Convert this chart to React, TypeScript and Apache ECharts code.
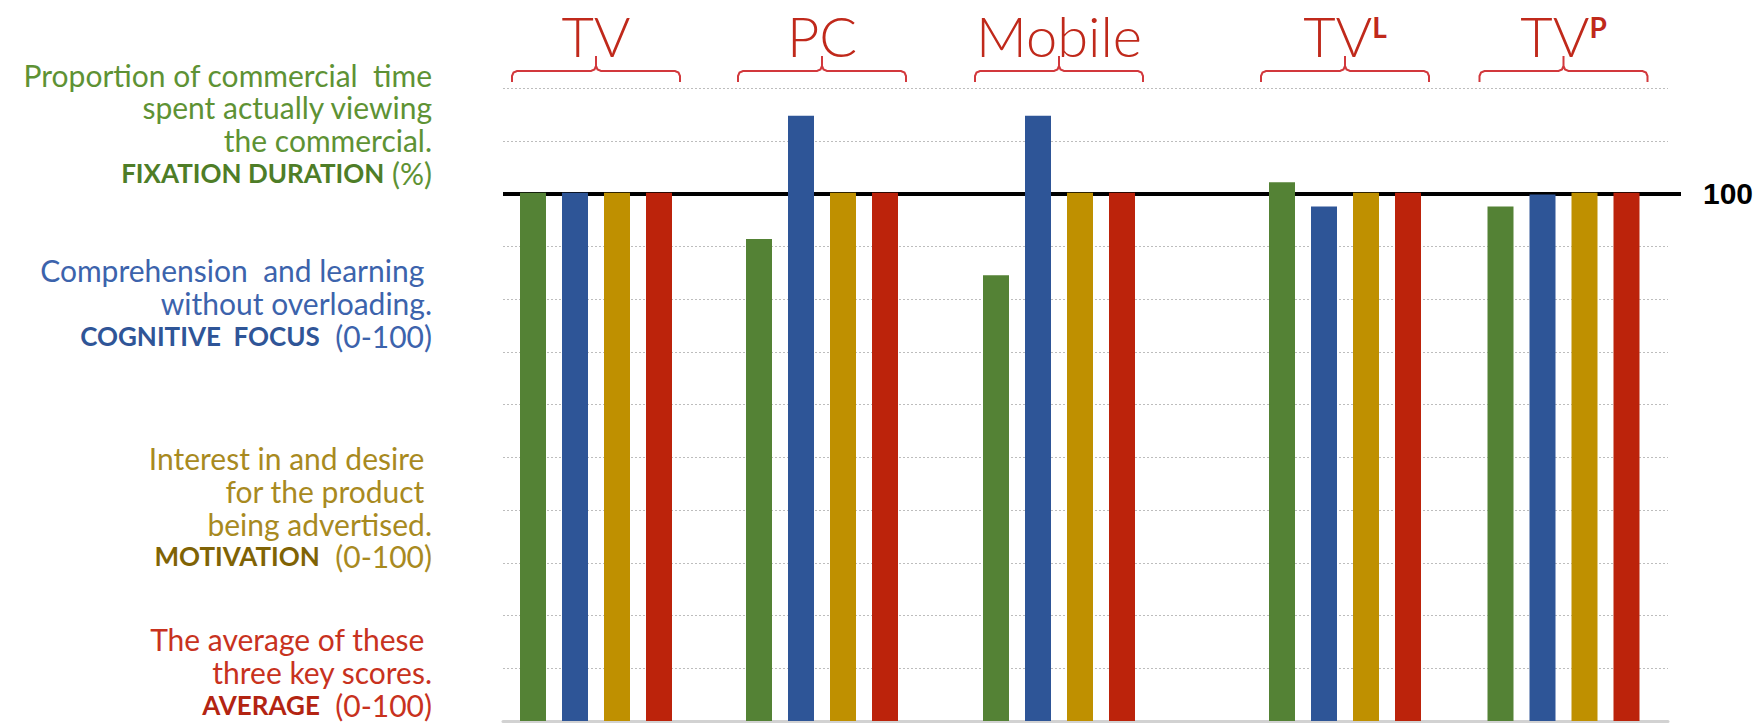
import React, { useEffect, useRef } from 'react';
import * as echarts from 'echarts';

// ---------- data ----------
const groupNames = ['TV', 'PC', 'Mobile', 'TV{s|L}', 'TV{s|P}'];
const metricNames = ['Fixation duration', 'Cognitive focus', 'Motivation', 'Average'];
const fixationDuration = [100.6, 91.8, 84.9, 102.6, 98.0];
const cognitiveFocus = [100.6, 115.3, 115.3, 98.0, 100.3];
const motivation = [100.6, 100.6, 100.6, 100.6, 100.6];
const average = [100.6, 100.6, 100.6, 100.6, 100.6];
const yMin = 0;
const yMax = 120;
const yInterval = 10;
const referenceValue = 100;
const referenceLabel = '100';

const descBlocks = [
  { lines: ['Proportion of commercial  time', 'spent actually viewing', 'the commercial.'], key: 'FIXATION DURATION', unit: ' (%)' },
  { lines: ['Comprehension  and learning ', 'without overloading.'], key: 'COGNITIVE  FOCUS', unit: '  (0-100)' },
  { lines: ['Interest in and desire ', 'for the product ', 'being advertised.'], key: 'MOTIVATION', unit: '  (0-100)' },
  { lines: ['The average of these ', 'three key scores.'], key: 'AVERAGE', unit: '  (0-100)' },
];

// ---------- layout & style ----------
const W = 1763;
const H = 723;
const PLOT_TOP = 88;
const PLOT_BOTTOM = 2;
const BG_LEFT = 503;
const BG_RIGHT = 95;
const REF_RIGHT = 82;
const GROUP_LEFT = [512, 738, 975, 1261, 1479.5];
const GROUP_W = 168;
const BAR_W = 26;
const BAR_COLORS = ['#548235', '#2E5597', '#BF9000', '#BC230B'];
const TITLE_RED = '#C0291B';
const BRACE_RED = '#D2383C';
const FONT = 'Lato, "Open Sans", "DejaVu Sans", sans-serif';
const DESC_RIGHT = 432;
const DESC_FIRST_LINE_Y = [74.5, 270, 458, 639];
const DESC_LINE_H = 32.8;
const DESC_STYLE = [
  { plain: '#5E9234', bold: '#4E7D27' },
  { plain: '#3C63AC', bold: '#2F5597' },
  { plain: '#A88A1F', bold: '#7F6305' },
  { plain: '#C8321E', bold: '#B32412' },
];

function bracePoints(x0: number, x1: number) {
  const xm = (x0 + x1) / 2;
  const yb = 71;
  const yEnd = 82;
  const yTip = 56;
  const r = 5;
  return [
    [x0, yEnd], [x0, yb + r], [x0 + 1.5, yb + 1.5], [x0 + r, yb],
    [xm - r, yb], [xm - 1.5, yb - 1.5], [xm, yb - r], [xm, yTip],
    [xm, yb - r], [xm + 1.5, yb - 1.5], [xm + r, yb],
    [x1 - r, yb], [x1 - 1.5, yb + 1.5], [x1, yb + r], [x1, yEnd],
  ];
}

function buildOption() {
  const nGroups = groupNames.length;
  const grids: any[] = [
    { left: BG_LEFT, right: BG_RIGHT, top: PLOT_TOP, bottom: PLOT_BOTTOM },
    { left: BG_LEFT, right: REF_RIGHT, top: PLOT_TOP, bottom: PLOT_BOTTOM },
  ];
  const xAxes: any[] = [
    {
      type: 'value', gridIndex: 0, min: 0, max: 1, position: 'bottom',
      axisLine: { show: true, onZero: false, lineStyle: { color: '#d2d2d2', width: 3 } },
      axisTick: { show: false }, axisLabel: { show: false }, splitLine: { show: false },
    },
    { type: 'value', gridIndex: 1, min: 0, max: 1, show: false },
  ];
  const yAxes: any[] = [
    {
      type: 'value', gridIndex: 0, min: yMin, max: yMax, interval: yInterval,
      axisLine: { show: false }, axisTick: { show: false }, axisLabel: { show: false },
      splitLine: { show: true, lineStyle: { color: '#bdbdbd', width: 1.2, type: [2, 2] } },
    },
    { type: 'value', gridIndex: 1, min: yMin, max: yMax, show: false },
  ];
  const series: any[] = [
    { type: 'line', xAxisIndex: 0, yAxisIndex: 0, data: [], silent: true },
    {
      type: 'line', xAxisIndex: 1, yAxisIndex: 1, data: [], silent: true,
      markLine: {
        z: 1, silent: true, symbol: ['none', 'none'],
        lineStyle: { color: '#000', width: 4, type: 'solid' },
        label: {
          show: true, position: 'end', formatter: referenceLabel, distance: 22,
          color: '#000', fontSize: 30, fontFamily: '"Liberation Sans", Arial, sans-serif', fontWeight: 'bold',
        },
        emphasis: { disabled: true },
        data: [{ yAxis: referenceValue }],
      },
    },
  ];
  const graphic: any[] = [];

  for (let g = 0; g < nGroups; g++) {
    const gi = g + 2;
    grids.push({ left: GROUP_LEFT[g], width: GROUP_W, top: PLOT_TOP, bottom: PLOT_BOTTOM });
    xAxes.push({
      type: 'category', gridIndex: gi, data: metricNames, position: 'top',
      axisLine: { show: false }, axisTick: { show: false }, axisLabel: { show: false },
      splitLine: { show: false },
      name: groupNames[g], nameLocation: 'middle', nameGap: 26,
      nameTextStyle: {
        color: TITLE_RED, fontSize: 56, fontFamily: FONT, fontWeight: 300, lineHeight: 60,
        rich: {
          s: {
            color: TITLE_RED, fontSize: 28, fontFamily: FONT, fontWeight: 'bold',
            verticalAlign: 'top', padding: [8, 0, 0, 0],
          },
        },
      },
    });
    yAxes.push({ type: 'value', gridIndex: gi, min: yMin, max: yMax, show: false });
    series.push({
      type: 'bar', name: groupNames[g], xAxisIndex: gi, yAxisIndex: gi, z: 3,
      barWidth: BAR_W,
      data: [fixationDuration[g], cognitiveFocus[g], motivation[g], average[g]],
      itemStyle: { color: (p: any) => BAR_COLORS[p.dataIndex] },
      silent: true,
    });
    graphic.push({
      type: 'polyline', silent: true,
      shape: { points: bracePoints(GROUP_LEFT[g], GROUP_LEFT[g] + GROUP_W) },
      style: { stroke: BRACE_RED, lineWidth: 2, fill: null },
    });
  }

  descBlocks.forEach((b, i) => {
    const lines = [...b.lines, `{b|${b.key}}${b.unit}`];
    lines.forEach((line, k) => {
      graphic.push({
        type: 'text', x: DESC_RIGHT, y: DESC_FIRST_LINE_Y[i] + k * DESC_LINE_H, silent: true,
        style: {
          text: line, align: 'right', verticalAlign: 'middle',
          fill: DESC_STYLE[i].plain, fontSize: 30, fontFamily: FONT, lineHeight: 26,
          rich: {
            b: { fill: DESC_STYLE[i].bold, fontSize: 26, fontWeight: 'bold', fontFamily: FONT, lineHeight: 26 },
          },
        },
      });
    });
  });

  return {
    animation: false,
    backgroundColor: '#ffffff',
    grid: grids,
    xAxis: xAxes,
    yAxis: yAxes,
    series,
    graphic,
  };
}

export default function App() {
  const ref = useRef<HTMLDivElement>(null);
  useEffect(() => {
    document.body.style.margin = '0';
    if (!ref.current) return;
    const chart = echarts.init(ref.current, null, { renderer: 'svg' });
    chart.setOption(buildOption());
    return () => chart.dispose();
  }, []);
  return <div ref={ref} style={{ width: W, height: H }} />;
}
